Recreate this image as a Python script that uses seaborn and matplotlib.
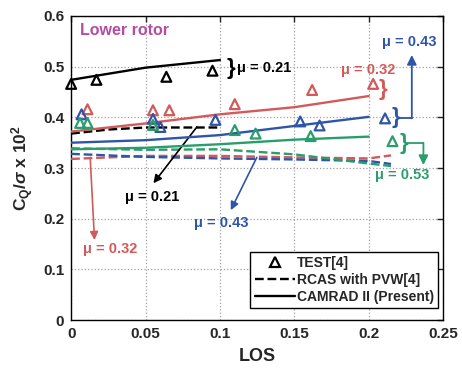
import matplotlib
matplotlib.use("Agg")
import matplotlib.pyplot as plt
from matplotlib.lines import Line2D
from matplotlib.ticker import FuncFormatter
import pandas as pd
import seaborn as sns

# ---------------- data ----------------
# CAMRAD II (present) predictions
camrad_los_021 = [0.0, 0.05, 0.1]
camrad_021 = [0.474, 0.498, 0.513]
camrad_los = [0.0, 0.05, 0.1, 0.15, 0.2]
camrad_032 = [0.372, 0.388, 0.406, 0.420, 0.442]
camrad_043 = [0.350, 0.355, 0.365, 0.383, 0.401]
camrad_053 = [0.337, 0.340, 0.347, 0.356, 0.362]

# RCAS with PVW predictions
rcas_los_021 = [0.0, 0.025, 0.05, 0.1]
rcas_021 = [0.368, 0.376, 0.380, 0.380]
rcas_los = [0.0, 0.05, 0.1, 0.15, 0.2, 0.215]
rcas_032 = [0.318, 0.324, 0.324, 0.321, 0.319, 0.325]
rcas_043 = [0.328, 0.322, 0.319, 0.317, 0.314, 0.308]
rcas_053 = [0.339, 0.336, 0.337, 0.327, 0.309, 0.304]

# wind tunnel test data
test_los_021 = [0.0, 0.017, 0.064, 0.095]
test_021 = [0.466, 0.474, 0.480, 0.492]
test_los_032 = [0.011, 0.055, 0.066, 0.110, 0.162, 0.203]
test_032 = [0.416, 0.414, 0.414, 0.426, 0.454, 0.466]
test_los_043 = [0.007, 0.055, 0.060, 0.097, 0.154, 0.167, 0.211]
test_043 = [0.406, 0.397, 0.381, 0.395, 0.392, 0.384, 0.398]
test_los_053 = [0.006, 0.011, 0.055, 0.110, 0.124, 0.161, 0.216]
test_053 = [0.389, 0.389, 0.385, 0.375, 0.368, 0.363, 0.353]

x_ticks = [0, 0.05, 0.1, 0.15, 0.2, 0.25]
y_ticks = [0, 0.1, 0.2, 0.3, 0.4, 0.5, 0.6]

# ---------------- style ----------------
sns.set_style("white")
plt.rcParams["font.family"] = ["Liberation Sans", "DejaVu Sans"]
plt.rcParams["font.weight"] = "bold"
plt.rcParams["mathtext.fontset"] = "custom"
plt.rcParams["mathtext.rm"] = "Liberation Sans:bold"
plt.rcParams["mathtext.it"] = "Liberation Sans:italic:bold"
plt.rcParams["mathtext.bf"] = "Liberation Sans:bold"

BLACK = "#000000"
RED = "#d25a5a"
BLUE = "#2f55a8"
GREEN = "#2a9d6c"
PURPLE = "#b44ca2"
ANN = 10.5

fig = plt.figure(figsize=(4.62, 3.71), dpi=100)
ax = fig.add_axes([0.154, 0.137, 0.805, 0.820])

solid = [(camrad_los_021, camrad_021, BLACK), (camrad_los, camrad_032, RED),
         (camrad_los, camrad_043, BLUE), (camrad_los, camrad_053, GREEN)]
dashed = [(rcas_los_021, rcas_021, BLACK), (rcas_los, rcas_032, RED),
          (rcas_los, rcas_043, BLUE), (rcas_los, rcas_053, GREEN)]
tests = [(test_los_021, test_021, BLACK), (test_los_032, test_032, RED),
         (test_los_043, test_043, BLUE), (test_los_053, test_053, GREEN)]

for xs, ys, c in dashed:
    df = pd.DataFrame({"LOS": xs, "CQ": ys})
    sns.lineplot(data=df, x="LOS", y="CQ", color=c, linestyle="--",
                 linewidth=1.7, ax=ax, zorder=3)
for xs, ys, c in solid:
    df = pd.DataFrame({"LOS": xs, "CQ": ys})
    sns.lineplot(data=df, x="LOS", y="CQ", color=c, linestyle="-",
                 linewidth=1.7, ax=ax, zorder=4)
for xs, ys, c in tests:
    df = pd.DataFrame({"LOS": xs, "CQ": ys})
    sns.scatterplot(data=df, x="LOS", y="CQ", marker="^", s=50, color=c,
                    facecolors="none", edgecolor=c, linewidth=1.6, ax=ax,
                    zorder=5)
for coll in ax.collections:
    coll.set_clip_on(False)

ax.set_xlim(0, 0.25)
ax.set_ylim(0, 0.6)
ax.set_xticks(x_ticks)
ax.set_yticks(y_ticks)
fmt = FuncFormatter(lambda v, p: "%g" % v)
ax.xaxis.set_major_formatter(fmt)
ax.yaxis.set_major_formatter(fmt)
ax.tick_params(direction="in", length=4, width=1, top=True, right=True,
               labelsize=11, pad=5)
for lab in ax.get_xticklabels() + ax.get_yticklabels():
    lab.set_fontweight("bold")
ax.grid(True, linestyle=":", color="#a0a0a0", linewidth=0.9)
for sp in ax.spines.values():
    sp.set_color("black")
    sp.set_linewidth(1.0)

ax.set_xlabel("LOS", fontsize=13, fontweight="bold", labelpad=5)
ax.set_ylabel(r"C$_{\mathrm{Q}}$/$\sigma$ x 10$^{\mathrm{2}}$", fontsize=12.5,
              fontweight="bold", labelpad=5)

# ---------------- annotations ----------------
ax.text(0.006, 0.571, "Lower rotor", color=PURPLE, fontsize=11.5,
        fontweight="bold", va="center", ha="left")

# mu = 0.21 (CAMRAD / test)
ax.text(0.1045, 0.497, "}", fontsize=16, va="center", ha="left", color=BLACK)
ax.text(0.1115, 0.497, "μ = 0.21", fontsize=ANN, fontweight="bold",
        va="center", ha="left", color=BLACK)
# mu = 0.32 (CAMRAD / test)
ax.text(0.2065, 0.454, "}", fontsize=16, va="center", ha="left", color=RED)
ax.text(0.200, 0.493, "μ = 0.32", fontsize=ANN, fontweight="bold",
        va="center", ha="center", color=RED)
# mu = 0.43 (CAMRAD / test)
ax.text(0.2155, 0.399, "}", fontsize=16, va="center", ha="left", color=BLUE)
ax.plot([0.2205, 0.229], [0.399, 0.399], color=BLUE, lw=1.3, clip_on=False)
ax.annotate("", xy=(0.229, 0.523), xytext=(0.229, 0.398),
            arrowprops=dict(arrowstyle="-|>", color=BLUE, lw=1.3,
                            mutation_scale=14, shrinkA=0, shrinkB=0),
            annotation_clip=False)
ax.text(0.2275, 0.549, "μ = 0.43", fontsize=ANN, fontweight="bold",
        va="center", ha="center", color=BLUE)
# mu = 0.53 (CAMRAD / test)
ax.text(0.2205, 0.349, "}", fontsize=16, va="center", ha="left", color=GREEN)
ax.plot([0.2255, 0.2368], [0.349, 0.349], color=GREEN, lw=1.3, clip_on=False)
ax.annotate("", xy=(0.2368, 0.306), xytext=(0.2368, 0.350),
            arrowprops=dict(arrowstyle="-|>", color=GREEN, lw=1.3,
                            mutation_scale=14, shrinkA=0, shrinkB=0),
            annotation_clip=False)
ax.text(0.2225, 0.286, "μ = 0.53", fontsize=ANN, fontweight="bold",
        va="center", ha="center", color=GREEN)

# RCAS curve call-outs
ax.annotate("", xy=(0.0553, 0.270), xytext=(0.0845, 0.381),
            arrowprops=dict(arrowstyle="-|>", color=BLACK, lw=1.2,
                            mutation_scale=12, shrinkA=0, shrinkB=0))
ax.text(0.0544, 0.243, "μ = 0.21", fontsize=ANN, fontweight="bold",
        va="center", ha="center", color=BLACK)
ax.annotate("", xy=(0.1073, 0.217), xytext=(0.1248, 0.321),
            arrowprops=dict(arrowstyle="-|>", color=BLUE, lw=1.2,
                            mutation_scale=12, shrinkA=0, shrinkB=0))
ax.text(0.1008, 0.191, "μ = 0.43", fontsize=ANN, fontweight="bold",
        va="center", ha="center", color=BLUE)
ax.annotate("", xy=(0.0157, 0.158), xytext=(0.0128, 0.321),
            arrowprops=dict(arrowstyle="-|>", color=RED, lw=1.2,
                            mutation_scale=12, shrinkA=0, shrinkB=0))
ax.text(0.0262, 0.140, "μ = 0.32", fontsize=ANN, fontweight="bold",
        va="center", ha="center", color=RED)

# ---------------- legend ----------------
handles = [
    Line2D([], [], color=BLACK, marker="^", linestyle="none", markersize=7,
           markerfacecolor="none", markeredgewidth=1.6),
    Line2D([], [], color=BLACK, linestyle="--", linewidth=1.7),
    Line2D([], [], color=BLACK, linestyle="-", linewidth=1.7),
]
labels = ["TEST[4]", "RCAS with PVW[4]", "CAMRAD II (Present)"]
leg = ax.legend(handles, labels, loc="lower right",
                bbox_to_anchor=(0.987, 0.04), fontsize=10, frameon=True,
                fancybox=False, edgecolor="black", framealpha=1,
                handlelength=2.9, handletextpad=0.15, borderpad=0.3,
                labelspacing=0.2, borderaxespad=0)
leg.get_frame().set_linewidth(1.0)
for t in leg.get_texts():
    t.set_fontweight("bold")

fig.savefig("out.png", dpi=100)
